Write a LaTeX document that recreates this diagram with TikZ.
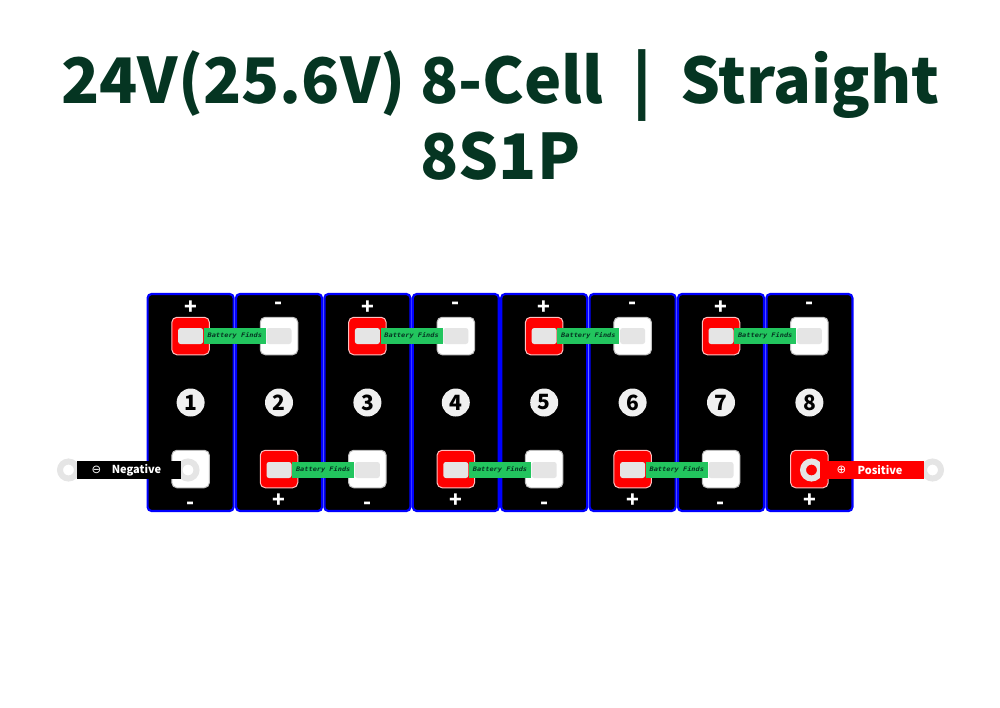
\documentclass[tikz,border=0pt]{standalone}
\usepackage{fontspec}
\setmainfont{Noto Sans CJK SC}
\newfontfamily\symfont{DejaVu Sans}
\newfontfamily\strapfont[FakeStretch=1.12]{DejaVu Sans Mono}
\usetikzlibrary{calc}
\definecolor{titlegreen}{HTML}{053522}
\definecolor{strapgreen}{HTML}{22C55E}
\definecolor{lightmetal}{HTML}{E5E5E5}
\definecolor{cellblue}{HTML}{0000FF}
\definecolor{termred}{HTML}{FF0000}
\tikzset{
    my-cell/.style={
        draw=cellblue, fill=black, line width=2.2pt, rounded corners=4pt,
        minimum width=86pt, minimum height=217pt, inner sep=0pt
    },
    my-terminal/.style={
        draw=#1, line width=1pt, rounded corners=5pt,
        minimum size=37.5pt, inner sep=0pt
    },
    my-pad/.style={
        fill=lightmetal, rounded corners=2.5pt,
        minimum width=25pt, minimum height=16pt, inner sep=0pt
    },
    my-strap/.style={
        fill=strapgreen, text=titlegreen, minimum width=62pt, minimum height=16pt,
        inner sep=0pt, font=\strapfont\bfseries\itshape\fontsize{6.2}{6.2}\selectfont
    },
    my-number/.style={
        fill=white!94!black, shape=circle, minimum size=28pt, inner sep=0pt,
        font=\bfseries\fontsize{21}{21}\selectfont
    },
    my-sign/.style={
        text=white, inner sep=0pt, font=\bfseries\fontsize{21}{21}\selectfont
    },
    my-ring/.style={
        shape=circle, draw=lightmetal, fill=#1, line width=6pt,
        minimum size=17pt, inner sep=0pt
    },
    my-lead/.style={
        fill=#1, text=white, minimum width=103.5pt, minimum height=17.5pt, inner sep=0pt
    },
    my-leadtext/.style={
        text=white, inner sep=0pt, font=\bfseries\fontsize{11}{11}\selectfont
    },
    my-title/.style={
        text=titlegreen, inner sep=0pt, anchor=base, font=\bfseries\fontsize{62.8}{62.8}\selectfont
    },
}
\begin{document}
\begin{tikzpicture}[x=1pt, y=-1pt]

        \useasboundingbox (0,0) rectangle (1000,707);

        % TITLE
        \node[my-title] (TITLE1) at (500.5,103) {24V(25.6V) 8-Cell\ \ |\ \ Straight};
        \node[my-title] (TITLE2) at (500.5,179) {8S1P};

        % CELLS, TERMINALS AND SIGNS
        \foreach \i in {1,...,8} {
            \pgfmathsetmacro{\cx}{190.6 + (\i-1)*88.4}
            \node[my-cell] (CELL\i) at (\cx,402.5) {};
            \ifodd\i
                \node[my-terminal=red!25!white, fill=termred] (TOP\i) at (\cx,336) {};
                \node[my-terminal=black!25!white, fill=white]  (BOT\i) at (\cx,469) {};
                \node[my-sign] (TOPSIGN\i) at (\cx,308) {+};
                \node[my-sign] (BOTSIGN\i) at (\cx,506) {-};
            \else
                \node[my-terminal=black!25!white, fill=white]  (TOP\i) at (\cx,336) {};
                \node[my-terminal=red!25!white, fill=termred] (BOT\i) at (\cx,469) {};
                \node[my-sign] (TOPSIGN\i) at (\cx,306) {-};
                \node[my-sign] (BOTSIGN\i) at (\cx,500.5) {+};
            \fi
            \node[my-pad]    (TOPPAD\i) at (TOP\i) {};
            \node[my-number] (NUM\i)    at (\cx,402.5) {\i};
        }

        % BOTTOM PADS, NOT ON THE TWO END TERMINALS
        \foreach \i in {2,...,7} {
            \node[my-pad] (BOTPAD\i) at ($(BOT\i) + (0,1)$) {};
        }

        % STRAPS
        \foreach \a/\b in {1/2, 3/4, 5/6, 7/8} {
            \node[my-strap] (TOPSTRAP\a) at ($(TOP\a)!.5!(TOP\b)$) {Battery Finds};
        }
        \foreach \a/\b in {2/3, 4/5, 6/7} {
            \node[my-strap] (BOTSTRAP\a) at ($(BOT\a)!.5!(BOT\b) + (0,1)$) {Battery Finds};
        }

        % NEGATIVE LEAD
        \node[my-ring=white] (NEGEND)  at (68.5,470) {};
        \node[my-ring=white] (NEGPOST) at (188,470)  {};
        \node[my-lead=black] (NEGLEAD) at (129,470)  {};
        \node[my-leadtext, font=\symfont\fontsize{11.5}{11.5}\selectfont] (NEGSYM) at (96.5,470) {⊖};
        \node[my-leadtext]   (NEGTEXT) at (136.5,470) {Negative};

        % POSITIVE LEAD
        \node[my-ring=termred] (POSPOST) at (811.5,470) {};
        \node[my-ring=white]   (POSEND)  at (932.5,470) {};
        \node[my-lead=termred] (POSLEAD) at (872,470)   {};
        \node[my-leadtext, font=\symfont\fontsize{11.5}{11.5}\selectfont] (POSSYM) at (841.5,470) {⊕};
        \node[my-leadtext]     (POSTEXT) at (880,470)   {Positive};

    \end{tikzpicture}
\end{document}
